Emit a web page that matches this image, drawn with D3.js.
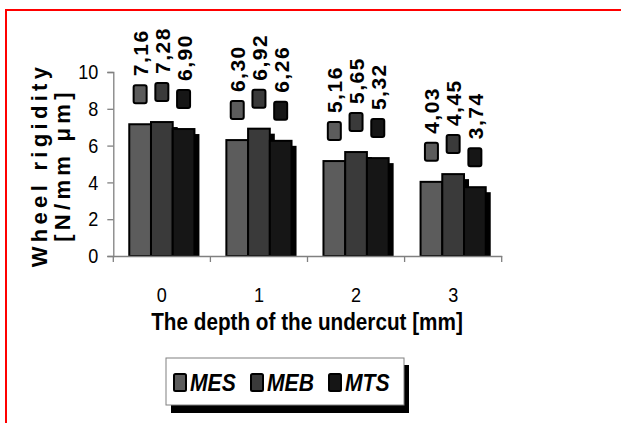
<!DOCTYPE html>
<html><head><meta charset="utf-8">
<script src="https://cdn.jsdelivr.net/npm/d3@7"></script>
<style>
html,body{margin:0;padding:0;background:#fff;}
svg{display:block;font-family:"Liberation Sans",Arial,sans-serif;}
</style></head>
<body>
<svg id="c" width="621" height="423"></svg>
<script>
const categories = ["0","1","2","3"];
const seriesNames = ["MES","MEB","MTS"];
const MES = [7.16, 6.30, 5.16, 4.03];
const MEB = [7.28, 6.92, 5.65, 4.45];
const MTS = [6.90, 6.26, 5.32, 3.74];
const labelsMES = ["7,16","6,30","5,16","4,03"];
const labelsMEB = ["7,28","6,92","5,65","4,45"];
const labelsMTS = ["6,90","6,26","5,32","3,74"];
const yTicks = [0,2,4,6,8,10];
const colors = ["#5c5c5c","#3a3a3a","#161616"];

const seriesVals = [MES, MEB, MTS];
const seriesLabels = [labelsMES, labelsMEB, labelsMTS];
const SX = 0.86; // horizontal condensation of the original lettering

const svg = d3.select("#c");

// red frame
svg.append("path").attr("d","M6,423 L6,10 L621,10").attr("fill","none").attr("stroke","#ff0000").attr("stroke-width",2);

const x = d3.scaleBand().domain(categories).range([113.3, 501.7]).paddingInner(0).paddingOuter(0);
const xs = d3.scaleBand().domain(seriesNames).range([0, x.bandwidth()]).paddingInner(0).paddingOuter(0.735);
const y = d3.scaleLinear().domain([0,10]).range([256,72]);

const data = [];
categories.forEach((c,i)=>{
  seriesNames.forEach((s,j)=>{
    data.push({c, s, j, v: seriesVals[j][i], lab: seriesLabels[j][i]});
  });
});

const g = svg.append("g");
// shadows
g.selectAll("rect.sh").data(data).enter().append("rect")
  .attr("x", d=>x(d.c)+xs(d.s)+5)
  .attr("y", d=>y(d.v)+5)
  .attr("width", xs.bandwidth())
  .attr("height", d=>y(0)-y(d.v)-5)
  .attr("fill","#000");
// bars
g.selectAll("rect.bar").data(data).enter().append("rect")
  .attr("x", d=>x(d.c)+xs(d.s))
  .attr("y", d=>y(d.v))
  .attr("width", xs.bandwidth())
  .attr("height", d=>y(0)-y(d.v))
  .attr("fill", d=>colors[d.j])
  .attr("stroke","#000").attr("stroke-width",2);

// label key squares
g.selectAll("rect.key").data(data).enter().append("rect")
  .attr("x", d=>x(d.c)+xs(d.s)+xs.bandwidth()/2-6.5)
  .attr("y", d=>y(d.v)-21-18)
  .attr("width",13).attr("height",18).attr("rx",2)
  .attr("fill", d=>colors[d.j]).attr("stroke","#000").attr("stroke-width",2);

// value labels
g.selectAll("text.val").data(data).enter().append("text")
  .attr("transform", d=>`translate(${x(d.c)+xs(d.s)+xs.bandwidth()/2+8},${y(d.v)-21-18-9}) rotate(-90)`)
  .attr("font-size",21).attr("font-weight","bold").attr("letter-spacing",1.5)
  .attr("fill","#000")
  .text(d=>d.lab);

// y axis
const ya = svg.append("g").attr("transform","translate(113.3,0)")
  .call(d3.axisLeft(y).tickValues(yTicks).tickSize(6).tickPadding(9).tickFormat(d3.format("d")));
ya.select(".domain").attr("stroke","#808080").attr("stroke-width",1.3);
ya.selectAll(".tick line").attr("stroke","#808080").attr("stroke-width",1.3);
ya.selectAll(".tick text").attr("font-size",21).attr("fill","#000")
  .attr("font-family","Liberation Sans, Arial, sans-serif")
  .attr("transform",`translate(-15,0) scale(${SX},1)`).attr("x",0);

// x axis
const xa = svg.append("g").attr("transform","translate(0,256)")
  .call(d3.axisBottom(x).tickSize(0).tickPadding(31));
xa.select(".domain").attr("stroke","#808080").attr("stroke-width",1.3);
xa.selectAll(".tick text").attr("font-size",21).attr("fill","#000")
  .attr("font-family","Liberation Sans, Arial, sans-serif")
  .attr("transform",`scale(${SX},1)`);
const bounds = categories.map(c=>x(c)).concat([x.range()[1]]);
xa.selectAll("line.bt").data(bounds).enter().append("line")
  .attr("x1",d=>d).attr("x2",d=>d).attr("y1",0).attr("y2",6)
  .attr("stroke","#808080").attr("stroke-width",1.3);

// x title
svg.append("text").attr("transform",`translate(307,330) scale(0.9,1)`).attr("text-anchor","middle")
  .attr("font-size",23).attr("font-weight","bold").attr("fill","#000")
  .text("The depth of the undercut [mm]");

// y title
const yt = svg.append("g").attr("transform",`translate(0,165) rotate(-90)`);
yt.append("text").attr("x",0).attr("y",47).attr("text-anchor","middle")
  .attr("font-size",22).attr("font-weight","bold").attr("letter-spacing",4.3)
  .text("Wheel rigidity");
yt.append("text").attr("x",0).attr("y",70).attr("text-anchor","middle")
  .attr("font-size",22).attr("font-weight","bold").attr("letter-spacing",4.3)
  .text("[N/mm μm]");

// legend
const lg = svg.append("g");
lg.append("rect").attr("x",171).attr("y",365).attr("width",238).attr("height",48).attr("fill","#000");
lg.append("rect").attr("x",166).attr("y",358).attr("width",238).attr("height",47).attr("fill","#fff").attr("stroke","#808080").attr("stroke-width",1);
const legX = [174, 251, 329];
seriesNames.forEach((s,j)=>{
  lg.append("rect").attr("x",legX[j]).attr("y",374).attr("width",12).attr("height",17).attr("rx",1.5)
    .attr("fill",colors[j]).attr("stroke","#000").attr("stroke-width",2);
  lg.append("text").attr("transform",`translate(${legX[j]+16},391) scale(0.88,1)`)
    .attr("font-size",24).attr("font-weight","bold").attr("font-style","italic").attr("fill","#000")
    .text(s);
});
</script>
</body></html>
